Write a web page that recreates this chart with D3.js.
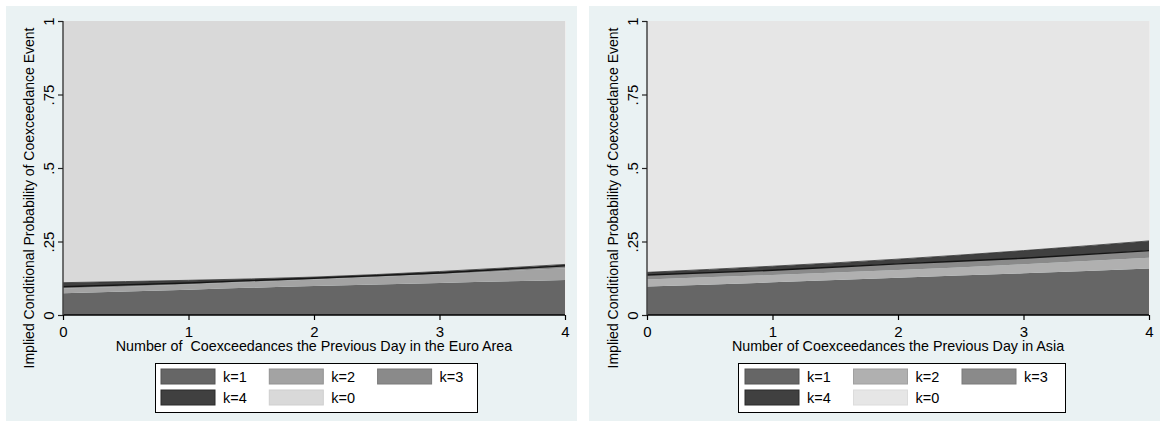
<!DOCTYPE html>
<html><head><meta charset="utf-8">
<script src="https://cdn.jsdelivr.net/npm/d3@7"></script>
<style>body{margin:0;background:#fff;} svg{display:block;font-family:"Liberation Sans",Arial,sans-serif;} text{white-space:pre;}</style>
</head><body>
<svg id="c" width="1166" height="427"></svg>
<script>
const xValues = [0, 1, 2, 3, 4];
const xTicks = [0, 1, 2, 3, 4];
const yTicks = [0, 0.25, 0.5, 0.75, 1];
const yTickLabels = ["0", ".25", ".5", ".75", "1"];
const seriesKeys = ["k1", "k2", "k3", "k4", "k0"];
const legendLabels = ["k=1", "k=2", "k=3", "k=4", "k=0"];

// Euro Area panel
const euroK1 = [0.074, 0.086, 0.099, 0.109, 0.119];
const euroK2 = [0.016, 0.018, 0.022, 0.030, 0.040];
const euroK3 = [0.006, 0.005, 0.004, 0.004, 0.008];
const euroK4 = [0.014, 0.009, 0.004, 0.005, 0.005];
const euroK0 = [0.890, 0.882, 0.871, 0.852, 0.828];
// Asia panel
const asiaK1 = [0.097, 0.111, 0.127, 0.142, 0.158];
const asiaK2 = [0.024, 0.025, 0.026, 0.031, 0.037];
const asiaK3 = [0.015, 0.016, 0.021, 0.020, 0.024];
const asiaK4 = [0.009, 0.014, 0.016, 0.026, 0.033];
const asiaK0 = [0.855, 0.834, 0.810, 0.781, 0.748];

const yTitle = "Implied Conditional Probability of Coexceedance Event";
const panels = [
  {ox: 0, xTitle: "Number of  Coexceedances the Previous Day in the Euro Area",
   series: {k1: euroK1, k2: euroK2, k3: euroK3, k4: euroK4, k0: euroK0},
   colors: {k1: "#666666", k2: "#a3a3a3", k3: "#8a8a8a", k4: "#404040", k0: "#d9d9d9"},
   strokes: {k1: "#555", k2: "#939393", k3: "#7a7a7a", k4: "#2a2a2a", k0: "#cfcfcf"},
   legendX: 155, legendW: 322},
  {ox: 584, xTitle: "Number of Coexceedances the Previous Day in Asia",
   series: {k1: asiaK1, k2: asiaK2, k3: asiaK3, k4: asiaK4, k0: asiaK0},
   colors: {k1: "#666666", k2: "#b0b0b0", k3: "#8a8a8a", k4: "#404040", k0: "#e6e6e6"},
   strokes: {k1: "#555", k2: "#a0a0a0", k3: "#7a7a7a", k4: "#2a2a2a", k0: "#dcdcdc"},
   legendX: 738, legendW: 327}
];

const svg = d3.select("#c");

panels.forEach((p, pi) => {
  const g = svg.append("g").attr("transform", `translate(${p.ox},0)`);
  g.append("rect").attr("x", 6 + (pi ? -1 : 0)).attr("y", 6).attr("width", 571).attr("height", 415).attr("fill", "#eaf2f3");

  const x = d3.scaleLinear().domain([0, 4]).range([63, 565]);
  const y = d3.scaleLinear().domain([0, 1]).range([315, 21]);

  const rows = xValues.map((xv, i) => {
    const r = {x: xv};
    seriesKeys.forEach(k => r[k] = p.series[k][i]);
    return r;
  });
  const stacked = d3.stack().keys(seriesKeys)(rows);
  const area = d3.area().x(d => x(d.data.x)).y0(d => y(d[0])).y1(d => y(Math.min(d[1], 1))).curve(d3.curveMonotoneX);

  g.selectAll("path.a").data(stacked).join("path").attr("class", "a")
    .attr("d", area).attr("fill", d => p.colors[d.key]);

  const k3 = stacked.find(s => s.key === "k3");
  const line = d3.line().x(d => x(d.data.x)).y(d => y(d[1])).curve(d3.curveMonotoneX);
  g.append("path").attr("d", line(k3)).attr("fill", "none").attr("stroke", "#151515").attr("stroke-width", 1.4);
  const k4 = stacked.find(s => s.key === "k4");
  g.append("path").attr("d", line(k4)).attr("fill", "none").attr("stroke", "#303030").attr("stroke-width", 0.8);

  g.append("line").attr("x1", 565.5).attr("x2", 565.5).attr("y1", 21).attr("y2", 315).attr("stroke", "#eeeeee").attr("stroke-width", 1);

  const xAxis = d3.axisBottom(x).tickValues(xTicks).tickFormat(d3.format("d")).tickSize(5).tickPadding(6);
  const gx = g.append("g").attr("transform", "translate(0,315)").call(xAxis);
  gx.attr("font-size", null).attr("font-family", null);
  gx.select(".domain").attr("stroke", "#000").attr("stroke-width", 1.5).attr("d", "M63,0H565");
  gx.selectAll(".tick line").attr("stroke", "#000").attr("stroke-width", 1.2);
  gx.selectAll("text").style("font-size", "15px").attr("fill", "#000");

  const yAxis = d3.axisLeft(y).tickValues(yTicks).tickFormat((d, i) => yTickLabels[i]).tickSize(5).tickPadding(4);
  const gy = g.append("g").attr("transform", "translate(63,0)").call(yAxis);
  gy.attr("font-size", null).attr("font-family", null);
  gy.select(".domain").attr("stroke", "#444").attr("stroke-width", 1.5).attr("d", "M0,21V315");
  gy.selectAll(".tick line").attr("stroke", "#222").attr("stroke-width", 1.2);
  gy.selectAll("text").style("font-size", "15px").attr("fill", "#000")
    .attr("text-anchor", "middle").attr("dy", null).attr("x", null)
    .attr("transform", "translate(-13,0) rotate(-90)").attr("y", 0).attr("dominant-baseline", "middle");

  g.append("text").attr("x", 314).attr("y", 351).attr("text-anchor", "middle").style("font-size", "14.3px").attr("fill", "#000").text(p.xTitle);
  g.append("text").attr("transform", "translate(34,198) rotate(-90)").attr("text-anchor", "middle").style("font-size", "14px").attr("fill", "#000").text(yTitle);

  const lg = g.append("g").attr("transform", `translate(${p.legendX - p.ox},363)`);
  lg.append("rect").attr("x", 0.5).attr("y", 0.5).attr("width", p.legendW).attr("height", 49).attr("fill", "#fff").attr("stroke", "#000").attr("stroke-width", 1);
  const colStep = pi ? 108.5 : 108.3;
  const sx0 = pi ? 7 : 6;
  seriesKeys.forEach((k, i) => {
    const col = i % 3, row = Math.floor(i / 3);
    const sx = sx0 + col * colStep, sy = 6 + row * 21;
    lg.append("rect").attr("x", sx).attr("y", sy).attr("width", 54).attr("height", 15)
      .attr("fill", p.colors[k]).attr("stroke", p.strokes[k]).attr("stroke-width", 1);
    lg.append("text").attr("x", sx + 62).attr("y", sy + 12.5).style("font-size", "14.5px").attr("fill", "#000").text(legendLabels[i]);
  });
});
</script>
</body></html>
